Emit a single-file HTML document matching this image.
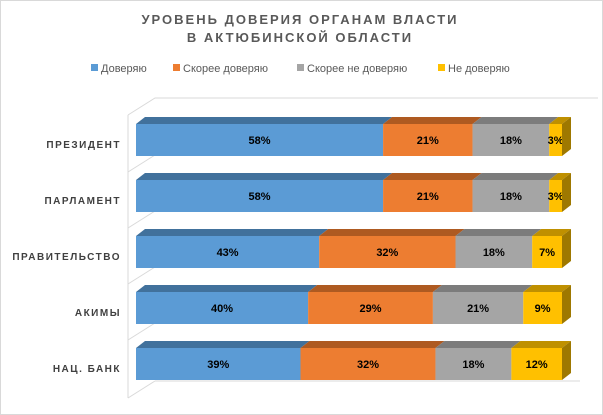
<!DOCTYPE html>
<html><head><meta charset="utf-8"><style>
body{margin:0;background:#fff}
svg{display:block;font-family:"Liberation Sans",sans-serif}
</style></head><body>
<svg width="603" height="415" viewBox="0 0 603 415">
<rect x="0.5" y="0.5" width="602" height="414" fill="#fff" stroke="#d9d9d9"/>
<text x="300" y="24" text-anchor="middle" font-size="13" font-weight="bold" fill="#595959" letter-spacing="2">УРОВЕНЬ ДОВЕРИЯ ОРГАНАМ ВЛАСТИ</text>
<text x="300" y="42" text-anchor="middle" font-size="13" font-weight="bold" fill="#595959" letter-spacing="2">В АКТЮБИНСКОЙ ОБЛАСТИ</text>
<g font-size="11" fill="#595959">
<rect x="91" y="64" width="7" height="7" fill="#5B9BD5"/><text x="101" y="72">Доверяю</text>
<rect x="173" y="64" width="7" height="7" fill="#ED7D31"/><text x="183" y="72">Скорее  доверяю</text>
<rect x="297" y="64" width="7" height="7" fill="#A5A5A5"/><text x="307" y="72">Скорее  не доверяю</text>
<rect x="438" y="64" width="7" height="7" fill="#FFC000"/><text x="448" y="72">Не доверяю</text>
</g>
<g stroke="#d9d9d9" fill="none">
<polyline points="128,115 155,98 598,98"/>
<line x1="128" y1="115" x2="128" y2="398"/>
<line x1="128" y1="398" x2="155" y2="381"/>
<line x1="128" y1="172" x2="155" y2="155"/>
<line x1="128" y1="228" x2="155" y2="211"/>
<line x1="128" y1="284" x2="155" y2="267"/>
<line x1="128" y1="340" x2="155" y2="323"/>
<line x1="155" y1="381" x2="580" y2="381"/>
</g>
<g id="bars" font-size="11" font-weight="bold" fill="#000"></g>
<g font-size="10" font-weight="bold" fill="#404040" text-anchor="end" letter-spacing="1.5">
<text x="121" y="148">ПРЕЗИДЕНТ</text>
<text x="121" y="204">ПАРЛАМЕНТ</text>
<text x="121" y="260">ПРАВИТЕЛЬСТВО</text>
<text x="121" y="316">АКИМЫ</text>
<text x="121" y="372">НАЦ. БАНК</text>
</g>
</svg>
<script>
var data=[[58,21,18,3],[58,21,18,3],[43,32,18,7],[40,29,21,9],[39,32,18,12]];
var front=["#5B9BD5","#ED7D31","#A5A5A5","#FFC000"],top_=["#41719C","#AE5A21","#7C7C7C","#BF9000"],side="#9E7800";
var g=document.getElementById("bars"),s="";
data.forEach(function(d,i){var y=124+i*56,h=32,x=136,dx=9,dy=7;
 var tot=d.reduce(function(a,b){return a+b},0),sc=426/tot;
 d.forEach(function(v,j){var w=v*sc;
  s+='<polygon points="'+x+','+y+' '+(x+dx)+','+(y-dy)+' '+(x+w+dx)+','+(y-dy)+' '+(x+w)+','+y+'" fill="'+top_[j]+'"/>';
  s+='<rect x="'+x+'" y="'+y+'" width="'+w+'" height="'+h+'" fill="'+front[j]+'"/>';
  s+='<text x="'+(x+w/2)+'" y="'+(y+20)+'" text-anchor="middle">'+v+'%</text>';
  x+=w;});
 s+='<polygon points="'+x+','+y+' '+(x+dx)+','+(y-dy)+' '+(x+dx)+','+(y+h-dy)+' '+x+','+(y+h)+'" fill="'+side+'"/>';
});
g.innerHTML=s;
</script>
</body></html>
